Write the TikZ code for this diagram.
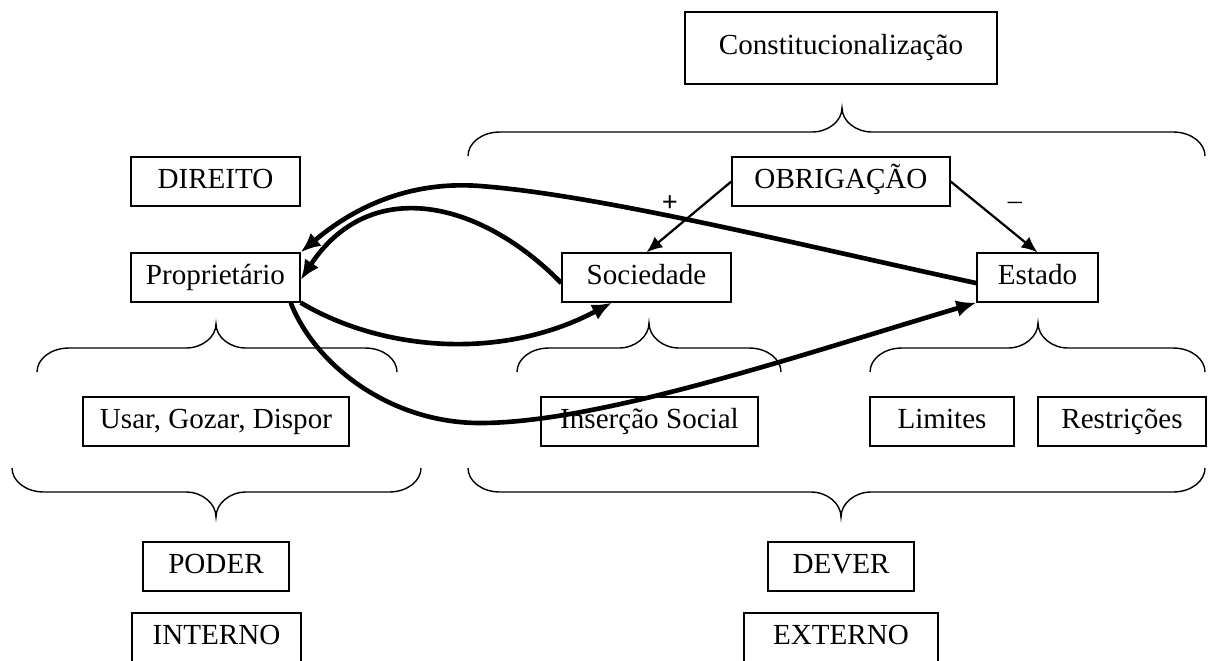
\documentclass[tikz,border=0pt]{standalone}
\usepackage{fontspec}
\setmainfont{Liberation Serif}
\usetikzlibrary{arrows.meta}
% horizontal curly brace: x-left, x-right, x-tip, y-ends, y-flat, y-tip
\newcommand{\mybrace}[6]{%
  \draw[bracestyle] (#1,#4) .. controls (#1,{#4+0.55*(#5-#4)}) and ({#1+14},#5) .. ({#1+32},#5)
    -- ({#3-30},#5) .. controls ({#3-14},#5) and (#3,{#5+0.45*(#6-#5)}) .. (#3,#6)
    .. controls (#3,{#5+0.45*(#6-#5)}) and ({#3+14},#5) .. ({#3+30},#5)
    -- ({#2-32},#5) .. controls ({#2-14},#5) and (#2,{#4+0.55*(#5-#4)}) .. (#2,#4);}
\begin{document}
\begin{tikzpicture}[x=0.025cm,y=-0.025cm,
  box/.style={draw, line width=0.9pt, inner sep=0pt, minimum height=1.225cm,
    font=\fontsize{20.7}{24}\selectfont, text height=14.3pt, text depth=4.55pt},
  thickarrow/.style={line width=3.3pt, -{Latex[length=0.5cm,width=0.42cm]}},
  thinarrow/.style={line width=1.6pt, -{Latex[length=0.4cm,width=0.34cm]}},
  bracestyle/.style={line width=1pt},
  sign/.style={inner sep=0pt}]
\useasboundingbox (0,0) rectangle (1209,660);

% boxes
\node[box, minimum width=7.8cm, minimum height=1.8cm] (const) at (841,48) {Constitucionalização};
\node[box, minimum width=4.225cm] (direito) at (215.5,181.5) {DIREITO};
\node[box, minimum width=4.225cm] (prop) at (215.5,277.5) {Proprietário};
\node[box, minimum width=5.45cm] (obrig) at (841,181.5) {OBRIGAÇÃO};
\node[box, minimum width=4.225cm] (soc) at (646.5,277.5) {Sociedade};
\node[box, minimum width=3.025cm] (estado) at (1037.5,277.5) {Estado};
\node[box, minimum width=6.65cm] (usar) at (216,421.5) {Usar, Gozar, Dispor};
\node[box, minimum width=5.425cm] (insercao) at (649.5,421.5) {Inserção Social};
\node[box, minimum width=3.6cm] (limites) at (942,421.5) {Limites};
\node[box, minimum width=4.2cm] (restricoes) at (1122,421.5) {Restrições};
\node[box, minimum width=3.65cm] (poder) at (216,566.5) {PODER};
\node[box, minimum width=4.225cm] (interno) at (216.5,637.5) {INTERNO};
\node[box, minimum width=3.65cm] (dever) at (841,566.5) {DEVER};
\node[box, minimum width=4.85cm] (externo) at (841,637.5) {EXTERNO};

% braces
\mybrace{468}{1205}{842}{156}{132}{108}
\mybrace{37}{397}{216}{372}{348}{324}
\mybrace{517}{781}{649}{372}{348}{323}
\mybrace{870}{1205}{1038}{372}{348}{323}
\mybrace{12}{421}{216}{468}{492}{517}
\mybrace{468}{1205}{841}{468}{492}{517}

% thin arrows from OBRIGACAO
\draw[thinarrow] (obrig.west) -- (soc.north);
\draw[thinarrow] (obrig.east) -- (estado.north);
\node[sign, font=\fontsize{20}{24}\selectfont\bfseries] (plus) at (670,204) {+};
\node[sign, font=\fontsize{20}{24}\selectfont] (minus) at (1015,206) {–};

% thick arrows
\draw[thickarrow] ([yshift=-0.14cm]estado.west) .. controls (800,245) and (600,195) .. (480,186)
  .. controls (400,180) and (345,215) .. (prop.north east);
\draw[thickarrow] ([yshift=-0.14cm]soc.west) .. controls (480,200) and (370,175) .. ([yshift=-0.06cm]prop.east);
\draw[thickarrow] (prop.south east) .. controls (380,350) and (500,362) .. ([xshift=-0.8625cm]soc.south);
\draw[thickarrow] ([xshift=-0.25cm]prop.south east) .. controls (315,365) and (390,423) .. (480,423)
  .. controls (600,423) and (800,355) .. (estado.south west);
\end{tikzpicture}
\end{document}
